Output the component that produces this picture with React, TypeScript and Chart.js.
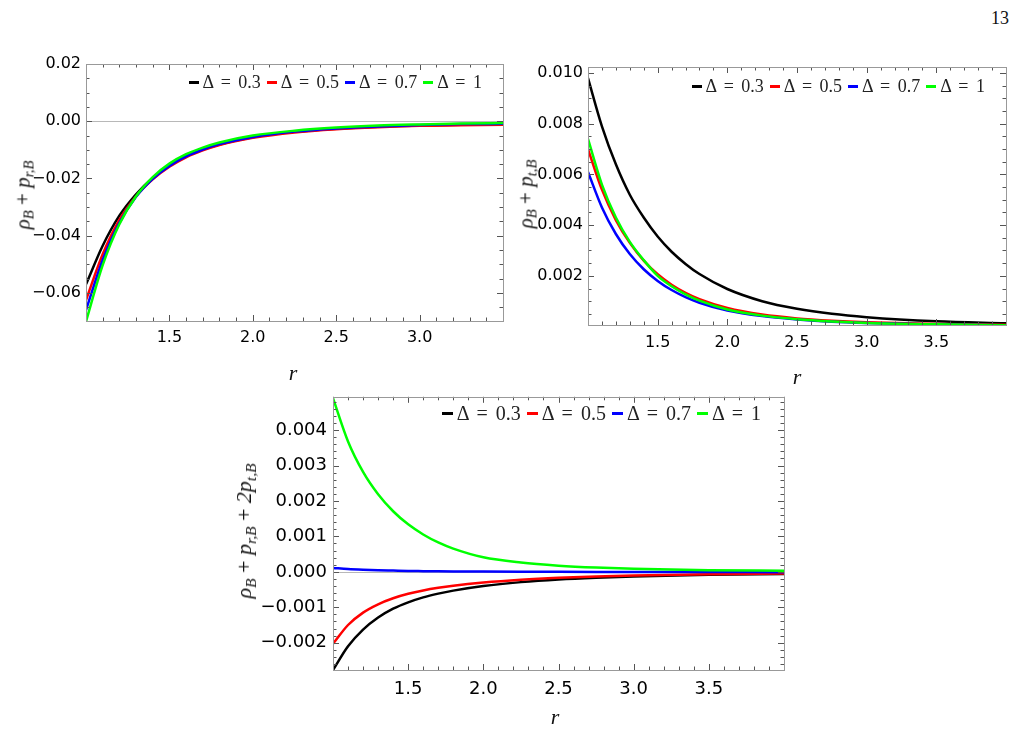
import React, { useEffect, useRef } from "react";
import { Chart, registerables } from "chart.js";

Chart.register(...registerables);

// ---------- shared series metadata ----------
const deltaLabels = ["Δ = 0.3", "Δ = 0.5", "Δ = 0.7", "Δ = 1"];
const lineColors = ["#000000", "#ff0000", "#0000ff", "#00ff00"];

// ---------- panel 1: ρ_B + p_{r,B} ----------
const r1 = [1.0, 1.1, 1.2, 1.3, 1.4, 1.5, 1.6, 1.7, 1.8, 2.0, 2.25, 2.5, 2.75, 3.0, 3.25, 3.5];
const radialD03 = [-0.057, -0.0435, -0.033, -0.0255, -0.0198, -0.0155, -0.0123, -0.0099, -0.0081, -0.0056, -0.0037, -0.0026, -0.0019, -0.0015, -0.0012, -0.001];
const radialD05 = [-0.0625, -0.0465, -0.0345, -0.0262, -0.0203, -0.0159, -0.0126, -0.0102, -0.0083, -0.0058, -0.0039, -0.0028, -0.0021, -0.0016, -0.0014, -0.0012];
const radialD07 = [-0.066, -0.0485, -0.0355, -0.0264, -0.0201, -0.0156, -0.0123, -0.0099, -0.008, -0.0055, -0.0036, -0.0025, -0.0018, -0.0013, -0.001, -0.0009];
const radialD1 = [-0.07, -0.0503, -0.036, -0.0262, -0.0195, -0.0148, -0.0115, -0.0092, -0.0074, -0.005, -0.0033, -0.0022, -0.0015, -0.0011, -0.0008, -0.0006];
const xTicks1 = [1.5, 2.0, 2.5, 3.0];
const yTicks1 = [0.02, 0.0, -0.02, -0.04, -0.06];

// ---------- panel 2: ρ_B + p_{t,B} ----------
const r2 = [1.0, 1.1, 1.2, 1.3, 1.4, 1.5, 1.6, 1.7, 1.8, 2.0, 2.25, 2.5, 2.75, 3.0, 3.5, 4.0];
const tangD03 = [0.0098, 0.0079, 0.0064, 0.0052, 0.0043, 0.00355, 0.00295, 0.00247, 0.00207, 0.00148, 0.001, 0.0007, 0.0005, 0.00037, 0.00021, 0.00013];
const tangD05 = [0.007, 0.0054, 0.0042, 0.0033, 0.0026, 0.00206, 0.00165, 0.00133, 0.00108, 0.00073, 0.00047, 0.00032, 0.00023, 0.00017, 0.0001, 0.000065];
const tangD07 = [0.0061, 0.0047, 0.00365, 0.00286, 0.00226, 0.0018, 0.00144, 0.00116, 0.00094, 0.00063, 0.00041, 0.00028, 0.00019, 0.00014, 0.00008, 0.00005];
const tangD1 = [0.0074, 0.0056, 0.0043, 0.00334, 0.00262, 0.002, 0.00159, 0.00127, 0.00102, 0.00067, 0.00043, 0.00029, 0.0002, 0.00014, 0.000085, 0.000055];
const xTicks2 = [1.5, 2.0, 2.5, 3.0, 3.5];
const yTicks2 = [0.002, 0.004, 0.006, 0.008, 0.01];

// ---------- panel 3: ρ_B + p_{r,B} + 2p_{t,B} ----------
const r3 = [1.0, 1.1, 1.2, 1.3, 1.4, 1.5, 1.6, 1.7, 1.8, 2.0, 2.25, 2.5, 2.75, 3.0, 3.5, 4.0];
const sumD03 = [-0.00277, -0.0021, -0.00163, -0.00129, -0.00104, -0.00086, -0.00072, -0.000615, -0.00053, -0.0004, -0.00029, -0.000215, -0.000165, -0.00013, -0.000085, -0.00006];
const sumD05 = [-0.00203, -0.0015, -0.00115, -0.000915, -0.000745, -0.00062, -0.000525, -0.00045, -0.00039, -0.0003, -0.00022, -0.000165, -0.000128, -0.000102, -0.000068, -0.00005];
const sumD07 = [0.00011, 0.00008, 0.00006, 0.000045, 0.000035, 0.000025, 0.00002, 0.000015, 0.000012, 0.000008, 0.000004, 0.000001, -0.000002, -0.000004, -0.000006, -0.000008];
const sumD1 = [0.0049, 0.00368, 0.00282, 0.00219, 0.00171, 0.00134, 0.001055, 0.00083, 0.000655, 0.00041, 0.000262, 0.000175, 0.00012, 0.000085, 0.000048, 0.00003];
const xTicks3 = [1.5, 2.0, 2.5, 3.0, 3.5];
const yTicks3 = [-0.002, -0.001, 0.0, 0.001, 0.002, 0.003, 0.004];

const PAGE_W = 1021;
const PAGE_H = 740;

// Mathematica-style frame: box around the plot area with inward ticks on all sides
const frameTicks = {
  id: "frameTicks",
  beforeDatasetsDraw(chart: any, _args: any, opts: any) {
    if (!opts || !opts.zeroLine) return;
    const { ctx, chartArea: a } = chart;
    const y = chart.scales.y;
    const py = Math.round(y.getPixelForValue(0)) + 0.5;
    ctx.save();
    ctx.strokeStyle = "#b8b8b8";
    ctx.lineWidth = 1;
    ctx.beginPath();
    ctx.moveTo(a.left, py);
    ctx.lineTo(a.right, py);
    ctx.stroke();
    ctx.restore();
  },
  afterDatasetsDraw(chart: any, _args: any, opts: any) {
    if (!opts || !opts.xMinor) return;
    const { ctx, chartArea: a } = chart;
    const xs = chart.scales.x;
    const ys = chart.scales.y;
    const steps = (min: number, max: number, step: number) => {
      const out: number[] = [];
      const k0 = Math.ceil(min / step - 1e-9);
      const k1 = Math.floor(max / step + 1e-9);
      for (let k = k0; k <= k1; k++) out.push(k * step);
      return out;
    };
    const isMajor = (v: number, major: number) => Math.abs(v / major - Math.round(v / major)) < 1e-6;
    const majorLen = 6;
    const minorLen = 3.5;
    ctx.save();
    ctx.lineWidth = 1;
    ctx.strokeStyle = "#555";
    ctx.beginPath();
    for (const v of steps(xs.min, xs.max, opts.xMinor)) {
      const px = Math.round(xs.getPixelForValue(v)) + 0.5;
      const len = isMajor(v, opts.xMajor) ? majorLen : minorLen;
      ctx.moveTo(px, a.bottom);
      ctx.lineTo(px, a.bottom - len);
      ctx.moveTo(px, a.top);
      ctx.lineTo(px, a.top + len);
    }
    for (const v of steps(ys.min, ys.max, opts.yMinor)) {
      const py = Math.round(ys.getPixelForValue(v)) + 0.5;
      const len = isMajor(v, opts.yMajor) ? majorLen : minorLen;
      ctx.moveTo(a.left, py);
      ctx.lineTo(a.left + len, py);
      ctx.moveTo(a.right, py);
      ctx.lineTo(a.right - len, py);
    }
    ctx.stroke();
    ctx.strokeStyle = "#999";
    ctx.strokeRect(Math.round(a.left) + 0.5, Math.round(a.top) + 0.5, Math.round(a.right - a.left), Math.round(a.bottom - a.top));
    ctx.restore();
  },
};

const fmt = (v: number, d: number) => {
  const s = Math.abs(v).toFixed(d);
  return v < -1e-12 ? "\u2212" + s : s;
};

type PanelSpec = {
  left: number;
  top: number;
  width: number;
  height: number;
  axisW: number;
  axisH: number;
  padTop: number;
  padRight: number;
  xMin: number;
  xMax: number;
  yMin: number;
  yMax: number;
  xs: number[];
  series: number[][];
  xTicks: number[];
  yTicks: number[];
  yDigits: number;
  fontSize: number;
  xPad: number;
  yPad: number;
  xMinor: number;
  xMajor: number;
  yMinor: number;
  yMajor: number;
  zeroLine: boolean;
};

function Panel({ spec }: { spec: PanelSpec }) {
  const ref = useRef<HTMLCanvasElement>(null);
  useEffect(() => {
    const font = { family: '"DejaVu Sans", sans-serif', size: spec.fontSize };
    const chart = new Chart(ref.current as HTMLCanvasElement, {
      type: "line",
      data: {
        datasets: spec.series.map((vals, i) => ({
          label: deltaLabels[i],
          data: spec.xs.map((r, j) => ({ x: r, y: vals[j] })),
          borderColor: lineColors[i],
          backgroundColor: lineColors[i],
          borderWidth: 2.5,
          pointRadius: 0,
          cubicInterpolationMode: "monotone",
          fill: false,
          order: 3 - i,
        })),
      },
      options: {
        animation: false,
        responsive: false,
        events: [],
        layout: { padding: { left: 0, right: spec.padRight, top: spec.padTop, bottom: 0 } },
        plugins: {
          legend: { display: false },
          tooltip: { enabled: false },
          frameTicks: {
            xMinor: spec.xMinor,
            xMajor: spec.xMajor,
            yMinor: spec.yMinor,
            yMajor: spec.yMajor,
            zeroLine: spec.zeroLine,
          },
        } as any,
        scales: {
          x: {
            type: "linear",
            min: spec.xMin,
            max: spec.xMax,
            grid: { display: false, drawTicks: false },
            border: { display: false },
            ticks: {
              font,
              color: "#000",
              padding: spec.xPad,
              maxRotation: 0,
              autoSkip: false,
              callback: (v: any) => Number(v).toFixed(1),
            },
            afterBuildTicks: (s: any) => {
              s.ticks = spec.xTicks.map((v) => ({ value: v }));
            },
            afterFit: (s: any) => {
              s.height = spec.axisH;
            },
          },
          y: {
            type: "linear",
            min: spec.yMin,
            max: spec.yMax,
            grid: { display: false, drawTicks: false },
            border: { display: false },
            ticks: {
              font,
              color: "#000",
              padding: spec.yPad,
              autoSkip: false,
              callback: (v: any) => fmt(Number(v), spec.yDigits),
            },
            afterBuildTicks: (s: any) => {
              s.ticks = spec.yTicks.map((v) => ({ value: v }));
            },
            afterFit: (s: any) => {
              s.width = spec.axisW;
            },
          },
        },
      } as any,
      plugins: [frameTicks],
    });
    return () => chart.destroy();
  }, [spec]);
  return (
    <canvas
      ref={ref}
      width={spec.width}
      height={spec.height}
      style={{ position: "absolute", left: spec.left, top: spec.top, width: spec.width, height: spec.height }}
    />
  );
}

function Legend({ right, cy, size, dash }: { right: number; cy: number; size: number; dash: number }) {
  return (
    <div
      style={{
        position: "absolute",
        right: PAGE_W - right,
        top: cy,
        transform: "translateY(-50%)",
        display: "flex",
        alignItems: "center",
        fontFamily: '"Liberation Serif", serif',
        fontSize: size,
        lineHeight: 1,
        whiteSpace: "nowrap",
        wordSpacing: "3px",
        color: "#222",
      }}
    >
      {deltaLabels.map((t, i) => (
        <span key={t} style={{ display: "flex", alignItems: "center", marginLeft: i ? 6 : 0 }}>
          <span style={{ display: "inline-block", width: dash, height: 3, background: lineColors[i], marginRight: 4 }} />
          {t}
        </span>
      ))}
    </div>
  );
}

const mathFont = '"Liberation Serif", serif';

function Sub({ children }: { children: React.ReactNode }) {
  return <span style={{ fontSize: "0.7em", position: "relative", top: "0.3em" }}>{children}</span>;
}

function Plus() {
  return <span style={{ fontStyle: "normal", margin: "0 0.25em" }}>+</span>;
}

function YTitle({ cx, cy, size, children }: { cx: number; cy: number; size: number; children: React.ReactNode }) {
  return (
    <div
      style={{
        position: "absolute",
        left: cx,
        top: cy,
        transform: "translate(-50%, -50%) rotate(-90deg)",
        fontFamily: mathFont,
        fontStyle: "italic",
        fontSize: size,
        lineHeight: 1,
        whiteSpace: "nowrap",
        color: "#111",
      }}
    >
      {children}
    </div>
  );
}

function XTitle({ cx, cy, size }: { cx: number; cy: number; size: number }) {
  return (
    <div
      style={{
        position: "absolute",
        left: cx,
        top: cy,
        transform: "translate(-50%, -50%)",
        fontFamily: mathFont,
        fontStyle: "italic",
        fontSize: size,
        lineHeight: 1,
        color: "#111",
      }}
    >
      r
    </div>
  );
}

const panel1: PanelSpec = {
  left: 0, top: 40, width: 520, height: 350, axisW: 86, axisH: 69, padTop: 24, padRight: 17,
  xMin: 1, xMax: 3.5, yMin: -0.0698, yMax: 0.02,
  xs: r1, series: [radialD03, radialD05, radialD07, radialD1],
  xTicks: xTicks1, yTicks: yTicks1, yDigits: 2, fontSize: 16, xPad: 7, yPad: 5,
  xMinor: 0.1, xMajor: 0.5, yMinor: 0.005, yMajor: 0.02, zeroLine: true,
};

const panel2: PanelSpec = {
  left: 520, top: 40, width: 501, height: 350, axisW: 68, axisH: 65, padTop: 27, padRight: 15,
  xMin: 1, xMax: 4, yMin: 0.00006, yMax: 0.01024,
  xs: r2, series: [tangD03, tangD05, tangD07, tangD1],
  xTicks: xTicks2, yTicks: yTicks2, yDigits: 3, fontSize: 16, xPad: 8, yPad: 5,
  xMinor: 0.1, xMajor: 0.5, yMinor: 0.0005, yMajor: 0.002, zeroLine: false,
};

const panel3: PanelSpec = {
  left: 230, top: 380, width: 570, height: 360, axisW: 103, axisH: 70, padTop: 12, padRight: 16,
  xMin: 1, xMax: 4, yMin: -0.00277, yMax: 0.00494,
  xs: r3, series: [sumD03, sumD05, sumD07, sumD1],
  xTicks: xTicks3, yTicks: yTicks3, yDigits: 3, fontSize: 18, xPad: 9, yPad: 6,
  xMinor: 0.1, xMajor: 0.5, yMinor: 0.0002, yMajor: 0.001, zeroLine: true,
};

export default function App() {
  return (
    <div style={{ position: "absolute", left: 0, top: 0, width: PAGE_W, height: PAGE_H, background: "#fff", overflow: "hidden" }}>
      <div style={{ position: "absolute", left: 991, top: 8, fontFamily: mathFont, fontSize: 18, color: "#111" }}>13</div>

      <Panel spec={panel1} />
      <YTitle cx={23} cy={195} size={21}>
        ρ<Sub>B</Sub>
        <Plus />p<Sub>r,B</Sub>
      </YTitle>
      <XTitle cx={293} cy={373} size={22} />
      <Legend right={482} cy={82} size={18} dash={10} />

      <Panel spec={panel2} />
      <YTitle cx={526} cy={194} size={21}>
        ρ<Sub>B</Sub>
        <Plus />p<Sub>t,B</Sub>
      </YTitle>
      <XTitle cx={797} cy={377} size={22} />
      <Legend right={985} cy={86} size={18} dash={10} />

      <Panel spec={panel3} />
      <YTitle cx={244} cy={531} size={22}>
        ρ<Sub>B</Sub>
        <Plus />p<Sub>r,B</Sub>
        <Plus />2p<Sub>t,B</Sub>
      </YTitle>
      <XTitle cx={555} cy={717} size={22} />
      <Legend right={761} cy={413} size={20} dash={11} />
    </div>
  );
}
